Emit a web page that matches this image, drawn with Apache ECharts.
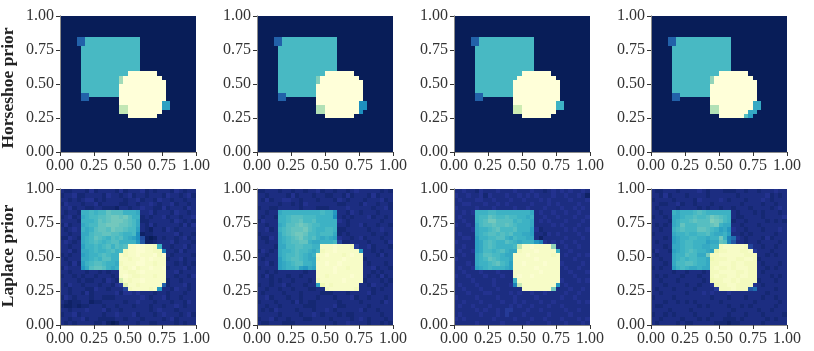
<!DOCTYPE html>
<html>
<head>
<meta charset="utf-8">
<script src="https://cdn.jsdelivr.net/npm/echarts@6/dist/echarts.min.js"></script>
<style>
html,body{margin:0;padding:0;background:#fff;}
#main{width:814px;height:351px;}
</style>
</head>
<body>
<div id="main"></div>
<script>
// rows run top to bottom, 32 cells each, one base-36 digit per cell (0 = 0.0, z = 1.0), split in groups of 8
var z8="00000000 00000000 00000000 00000000";
var horseshoe1=[z8,z8,z8,z8,z8,
"000099ii iiiiiiii iii00000 00000000","000099ii iiiiiiii iii00000 00000000",
"00000iii iiiiiiii iii00000 00000000","00000iii iiiiiiii iii00000 00000000","00000iii iiiiiiii iii00000 00000000",
"00000iii iiiiiiii iii00000 00000000","00000iii iiiiiiii iii00000 00000000","00000iii iiiiiiii iii00000 00000000",
"00000iii iiiiiiii zzzzzzz0 00000000","00000iii iiiiiioz zzzzzzzz 00000000","00000iii iiiiiioz zzzzzzzz z0000000",
"00000iii iiiiiizz zzzzzzzz z0000000","00000iii iiiiiizz zzzzzzzz z0000000",
"0000099i iiiiiizz zzzzzzzz z0000000","00000990 000000zz zzzzzzzz z0000000",
"00000000 000000zz zzzzzzzz ff000000","00000000 000000qq zzzzzzzz ff000000","00000000 000000qq zzzzzzzz 00000000",
"00000000 00000000 zzzzzzz0 00000000",z8,z8,z8,z8,z8,z8,z8,z8];
var horseshoe2=[z8,z8,z8,z8,z8,
"000099ii iiiiiiii iii00000 00000000","000099ii iiiiiiii iii00000 00000000",
"00000iii iiiiiiii iii00000 00000000","00000iii iiiiiiii iii00000 00000000","00000iii iiiiiiii iii00000 00000000",
"00000iii iiiiiiii iii00000 00000000","00000iii iiiiiiii iii00000 00000000","00000iii iiiiiiii iii00000 00000000",
"00000iii iiiiiiii zzzzzzz0 00000000","00000iii iiiiiimz zzzzzzzz 00000000","00000iii iiiiiimz zzzzzzzz z0000000",
"00000iii iiiiiizz zzzzzzzz z0000000","00000iii iiiiiizz zzzzzzzz z0000000",
"0000099i iiiiiizz zzzzzzzz z0000000","00000990 000000zz zzzzzzzz z0000000",
"00000000 000000zz zzzzzzzz dd000000","00000000 000000pp zzzzzzzz dd000000","00000000 000000pp zzzzzzzz d0000000",
"00000000 00000000 zzzzzzz0 00000000",z8,z8,z8,z8,z8,z8,z8,z8];
var horseshoe3=[z8,z8,z8,z8,z8,
"000099ii iiiiiiii iii00000 00000000","000099ii iiiiiiii iii00000 00000000",
"00000iii iiiiiiii iii00000 00000000","00000iii iiiiiiii iii00000 00000000","00000iii iiiiiiii iii00000 00000000",
"00000iii iiiiiiii iii00000 00000000","00000iii iiiiiiii iii00000 00000000","00000iii iiiiiiii iii00000 00000000",
"00000iii iiiiiiii zzzzzzz0 00000000","00000iii iiiiiiiz zzzzzzzz 00000000","00000iii iiiiiizz zzzzzzzz z0000000",
"00000iii iiiiiizz zzzzzzzz z0000000","00000iii iiiiiizz zzzzzzzz z0000000",
"0000099i iiiiiizz zzzzzzzz z0000000","00000990 000000zz zzzzzzzz z0000000",
"00000000 000000zz zzzzzzzz hh000000","00000000 000000rr zzzzzzzz hh000000","00000000 000000rr zzzzzzzz 00000000",
"00000000 00000000 zzzzzzz0 00000000",z8,z8,z8,z8,z8,z8,z8,z8];
var horseshoe4=[z8,z8,z8,z8,z8,
"000099ii iiiiiiii iii00000 00000000","000099ii iiiiiiii iii00000 00000000",
"00000iii iiiiiiii iii00000 00000000","00000iii iiiiiiii iii00000 00000000","00000iii iiiiiiii iii00000 00000000",
"00000iii iiiiiiii iii00000 00000000","00000iii iiiiiiii iii00000 00000000","00000iii iiiiiiii iii00000 00000000",
"00000iii iiiiiiii zzzzzzz0 00000000","00000iii iiiiiinz zzzzzzzz 00000000","00000iii iiiiiinz zzzzzzzz z0000000",
"00000iii iiiiiizz zzzzzzzz z0000000","00000iii iiiiiizz zzzzzzzz z0000000",
"0000099i iiiiiizz zzzzzzzz z0000000","00000990 000000zz zzzzzzzz z0000000",
"00000000 000000zz zzzzzzzz gg000000","00000000 000000pp zzzzzzzz gg000000","00000000 000000pp zzzzzzzg g0000000",
"00000000 00000000 zzzzzzjf 00000000",z8,z8,z8,z8,z8,z8,z8,z8];
var laplace1=[
"32233324 23333242 33342323 33243233","23342233 33243323 42332333 24332342","33232344 23233332 33423324 33233233","24333233 42333322 33233432 33423323","33423322 33222133 23343322 42333243",
"32332hhi hiikjjjh hhg33423 33243323","23423ghi ijjkllkl jhh23233 42332334","33332hhh ikjklllk jig22333 33243232","24233ghi ikklllkk jig32423 33332424","32343hgh jkkjlkkj iif32133 24323333",
"33233ggi jjkkjjih hid12233 33342332","22432ghi kjihjijh gfd71013 23323423","34323ghi jihijjhh hhe81123 33423332",
"33233fhh ihijhjij xxyyxxwh 33233423","33423ggh ihhijhiw xxyyxxww c3324233","23233fgh hijihhxw xxyxxxyw y3233332","32333ggh ihjjhhxx wxxyxyxx x2334233","33242fhi jjihhgwx xxyyxxwx x3323232","24333egj kkjhghxw xywxxyxx y2333423",
"33233323 323233xx wwxyxxxx x3342333","23323233 233323xy xwwxxxwx x3323324","33332322 332432sx wxxyxxxx x2332333","32433233 3233245t xxwxxxxx 92333423","33233322 43323336 wxxxxwxe 33243323",
"33233242 33333424 43433323 32333233","24323332 33222333 33343233 42332333","32122331 22333332 33433323 33233243","21121223 33233233 32333233 23343233","33233343 33423323 33333234 33323333","23342333 33233433 34233323 43332342","33233423 32222332 33323333 23423333","32323333 22310133 33233223 33323233"];
var laplace2=[
"22333233 23323342 33233234 33333232","33233332 42333233 22332423 33242333","32423344 33233323 33243233 32333423","33333233 23243333 33322333 24332332","23322333 33233322 23333433 33323342",
"33233ghh hhhhhhhi hhe33243 23332333","32332hhi jjjiiihh hhd32323 33423323","24333hhi jjkiijhh hhh43233 33333233","33233ghj jklkjiih hhh33233 42332332","33423hij kkkljihh iih22333 33233433",
"23333gij kllkiihi iig23233 33323323","32243ghi jkljijhg hgf43323 42333233","33233ghi jjkkhggh hhi62233 33233324",
"33332ggi ijjiihhx xxyxxxw5 33423332","24323ghh ijiihgiw xxyxxxxx e3323233","33233ghi ijihghxx yxxxwxyx x3332423","32333fhi jjihggwx xxxxyxxx x2333333","33423fgh ijjhhgxx yxxyxxxx x3233323","23333fgh hifegfxx xxyxxwxx x3342332",
"33232333 333233xx xxyxxxxx x3323233","32423332 332333xx wxxxxxyx x3232423","33323233 233323wx xxxxyxxx x2333232","23323342 333233fv xwxxxxxx 33243323","33233233 23332233 wxxxxxxw 33323233",
"32333323 33233332 22333233 33423333","33423332 33233323 33233342 33233323","23332333 24232233 33323333 23333243","33233233 33322233 33422333 33233333","32324333 32333233 43233333 42332333","33333233 33233432 33323223 33333233","23342332 33322333 32333323 43233323","32233322 23333333 33233433 33233232"];
var laplace3=[
"33433243 33433343 33433234 34343343","43343342 43334334 34343334 33433431","34333443 34333433 43334343 33343334","33443334 33434333 33433343 43333433","43333433 34333343 34333433 34334343",
"33434hhh iihhhhhh hhg34334 33433433","34333hii kjiijiih hgh33433 43334334","33433hij lljjjjhi hhg34343 33433343","43343gij jkjjkjih hhg33334 34333433","33334ghh ijkiiijh hhf42333 33434334",
"34333ghi jjijijhh ggf33243 43333433","33443fhh iijjhgih hgg31333 33433343","43333fgi jihhjihg hhhec434 34334333",
"33433fgi jihhhhiq xxyxxxxn 33433433","34334fgi ihijhggw xxxyxxxx h3343333","33433ghj jiihggxx xyxxxxxw x3433434","43333ghi kjihhgxx xxxyxxxx x3334333","33343ghh ijkihfxx yxxxxyxx x4333343","34334fgh ihhhgfxx xxxyxxxx x3433433",
"33433343 334333xx xxxxyxxx x3343334","43343334 333433xy xxyxxxxx x3334333","33334333 343333hx xxxxxxxx x4333434","34333433 343334cq xxxxxxxx e3433333","33433343 33433333 xxxxxxxl 33343343",
"33343334 43333434 33433433 33433433","43333433 33433343 33343333 34334333","33433343 33343343 43334334 33333434","34334333 43333434 33433343 34333333","33333434 33435533 34334333 33433433","34333343 33435333 43333343 33343333","43433333 34333343 33433433 34333434","33333433 33343333 34333343 33433343"];
var laplace4=[
"32233323 33343233 32223323 32333433","33242333 23333233 33332333 33342323","23333233 33243333 43233323 33432333","33223342 33233323 33333233 33233233","32333323 33323233 23323332 33332343",
"33233hgh hhijihhh hhh32333 23233323","23323ggh iijiijlk jih32233 33233334","33332ghi ijkjjjml kih23323 33323232","32323ghk iiijjjkl hgg33233 32333333","33233hij iiikkjih fge43323 33233343",
"23333ghh ihhiijhg ghf33232 33333233","33323fgh hiihhghh lhca4323 33242333","32333fgh iihhhfgg kjc83323 32333323",
"33323ggh iihhgghh wxxxxxw6 33233233","24332fgh ijihhgfu wwxxxwwx 53332333","32333ghh jiigglww xxxxxxww w3323233","33233ghi hiihhgvw wwxxwwxx w2333333","33323gii jjihhgww xxxwxxww w3233323","23233fhi hgghggwx wwxwxxxw w3323233",
"33333233 233323ww xxxxwwxw w3233333","32323332 333233wx wwxxwxxw w3332323","33233323 333323vw wxxwxwww w2333233","33323333 2332334v wwxxwwww 43233333","32333233 33233335 wwwxwww8 a3333233",
"33233333 23334343 33433333 33323333","23333233 33333323 33233323 33233233","33323323 23233333 23333333 23333323","32233333 33323233 33233232 33333233","33332333 32333333 33323333 32332333","23323233 33233323 33233323 33233332","33233332 33323233 32223233 33323233","32333323 22333332 22122333 33233333"];

var panels=[horseshoe1,horseshoe2,horseshoe3,horseshoe4,laplace1,laplace2,laplace3,laplace4];
var row_names=['Horseshoe prior','Laplace prior'];
// YlGnBu reversed
var ylgnbu_r=['#081d58','#253494','#225ea8','#1d91c0','#41b6c4','#7fcdbb','#c7e9b4','#edf8b1','#ffffd9'];

var lefts=[60,257,454,651];
var tops=[16,189];
var size=136;
var spine='#8c8c8c';
var tick_color='#333';
var label_font='"Liberation Serif"';

function cellData(rows){
    var out=[];
    for(var r=0;r<rows.length;r++){
        var cells=rows[r].replace(/ /g,'');
        for(var c=0;c<cells.length;c++){
            out.push([c,rows.length-1-r,parseInt(cells[c],36)/35]);
        }
    }
    return out;
}

// heatmap series leaves seams at 4.25px cells, so snap each cell to whole pixels
function renderCell(params,api){
    var center=api.coord([api.value(0),api.value(1)]);
    var band=api.size([1,1]);
    var x0=Math.floor(center[0]-band[0]/2),x1=Math.floor(center[0]+band[0]/2);
    var y0=Math.round(center[1]-band[1]/2),y1=Math.round(center[1]+band[1]/2);
    return {type:'rect',shape:{x:x0,y:y0,width:x1-x0,height:y1-y0},style:{fill:api.visual('color')}};
}

var cats=[];
for(var k=0;k<32;k++){cats.push(k);}

var grids=[],xAxes=[],yAxes=[],series=[];
panels.forEach(function(rows,i){
    grids.push({left:lefts[i%4],top:tops[i<4?0:1],width:size,height:size});
    // category axes hold the cells and draw the top and right spines
    xAxes.push({type:'category',gridIndex:i,data:cats,position:'top',z:5,axisTick:{show:false},axisLabel:{show:false},axisLine:{lineStyle:{color:spine}},splitLine:{show:false}});
    yAxes.push({type:'category',gridIndex:i,data:cats,position:'right',z:5,axisTick:{show:false},axisLabel:{show:false},axisLine:{lineStyle:{color:spine}},splitLine:{show:false}});
    series.push({type:'custom',xAxisIndex:i,yAxisIndex:i,data:cellData(rows),renderItem:renderCell,encode:{x:0,y:1},silent:true,progressive:0});
});
panels.forEach(function(rows,i){
    var axis={type:'value',gridIndex:i,min:0,max:1,interval:0.25,z:6,splitLine:{show:false},
        axisLine:{onZero:false,lineStyle:{color:spine}},
        axisTick:{length:4,lineStyle:{color:tick_color}},
        axisLabel:{fontFamily:label_font,fontSize:16,color:'#333',margin:6,hideOverlap:false,showMinLabel:true,showMaxLabel:true,formatter:function(v){return v.toFixed(2);}}};
    xAxes.push(Object.assign({},axis,{position:'bottom'}));
    yAxes.push(Object.assign({},axis,{position:'left'}));
});

var myChart=echarts.init(document.getElementById('main'));
myChart.setOption({
    animation:false,
    backgroundColor:'#fff',
    grid:grids,
    xAxis:xAxes,
    yAxis:yAxes,
    visualMap:{show:false,type:'continuous',min:0,max:1,dimension:2,seriesIndex:[0,1,2,3,4,5,6,7],inRange:{color:ylgnbu_r}},
    series:series,
    graphic:[
        {type:'text',x:8,y:88,rotation:Math.PI/2,style:{text:row_names[0],fill:'#222',font:'bold 17.5px "Liberation Serif"',textAlign:'center',textVerticalAlign:'middle'}},
        {type:'text',x:8,y:256,rotation:Math.PI/2,style:{text:row_names[1],fill:'#222',font:'bold 17.5px "Liberation Serif"',textAlign:'center',textVerticalAlign:'middle'}}
    ]
});
</script>
</body>
</html>
